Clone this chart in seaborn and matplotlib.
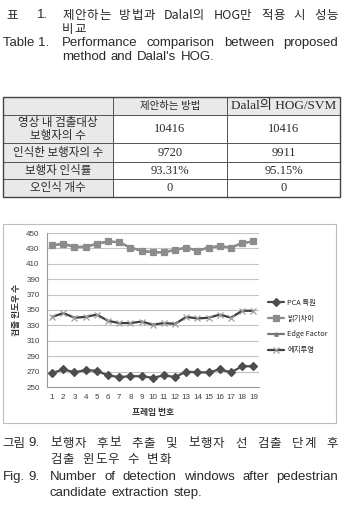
#!/usr/bin/env python3

import matplotlib
matplotlib.use("Agg")
import matplotlib.pyplot as plt
from matplotlib.patches import Rectangle
import seaborn as sns

W, H = 343, 512
KR = ["Noto Sans CJK KR", "DejaVu Sans"]
EN = ["Liberation Sans", "Noto Sans CJK KR"]
SERIF = ["Liberation Serif", "Noto Sans CJK KR"]
INK = "#2a2a2a"

# table data
col_headers = ["제안하는 방법", "Dalal의 HOG/SVM"]
row_labels = ["영상 내 검출대상\n보행자의 수", "인식한 보행자의 수", "보행자 인식률", "오인식 개수"]
proposed = ["10416", "9720", "93.31%", "0"]
dalal = ["10416", "9911", "95.15%", "0"]

# chart data (frame number vs. number of detection windows)
frames = list(range(1, 20))
pca = [268, 273, 269, 272, 271, 265, 263, 264, 264, 262, 265, 263, 270, 269, 269, 273, 269, 277, 277]
brightness = [434, 436, 432, 432, 436, 439, 438, 431, 427, 425, 425, 428, 431, 427, 431, 433, 431, 437, 439]
edge_factor = [434, 436, 432, 432, 436, 439, 438, 431, 427, 425, 425, 428, 431, 427, 431, 433, 431, 437, 439]
edge_proj = [341, 346, 340, 341, 344, 336, 333, 333, 335, 331, 333, 332, 341, 339, 340, 344, 340, 349, 349]
series_names = ["PCA 특원", "밝기차이", "Edge Factor", "에지투영"]

sns.set_style("white")
plt.rcParams["font.family"] = KR

fig = plt.figure(figsize=(W / 100, H / 100), dpi=100)
bg = fig.add_axes([0, 0, 1, 1])
bg.set_xlim(0, W)
bg.set_ylim(H, 0)
bg.axis("off")


def place(words, x0, y, family, size, x1=None, gap=None, track=0.0):
    # lay words out on one line; justified to x1, or with a fixed gap.
    # track spaces out the letters of all-Hangul words
    r = fig.canvas.get_renderer()
    groups, widths = [], []
    for w in words:
        hangul = all("\uac00" <= c <= "\ud7a3" for c in w)
        t_w = track if hangul else 0.0
        parts = list(w) if t_w else [w]
        ts = [bg.text(0, y, p, va="center", ha="left", family=family,
                      fontsize=size, color=INK) for p in parts]
        ws = [t.get_window_extent(r).width for t in ts]
        groups.append((ts, ws, t_w))
        widths.append(sum(ws) + t_w * (len(ts) - 1))
    if x1 is not None:
        gap = (x1 - x0 - sum(widths)) / (len(words) - 1)
    x = x0
    for (ts, ws, t_w), w in zip(groups, widths):
        cx = x
        for t, cw in zip(ts, ws):
            t.set_x(cx)
            cx += cw + t_w
        x += w + gap


def line(s, x, y, family, size):
    bg.text(x, y, s, va="center", ha="left", family=family, fontsize=size, color=INK)


KS, ES = 9, 9.5
fig.canvas.draw()

# top caption
line("표", 6, 15, KR, KS)
line("1.", 37, 15, EN, ES)
place("제안하는 방법과 Dalal의 HOG만 적용 시 성능".split(), 62, 15, KR, KS, x1=338, track=0.8)
place(["비교"], 62, 30, KR, KS, gap=0, track=1.2)
line("Table 1.", 3, 43, EN, ES)
place("Performance comparison between proposed".split(), 62, 43, EN, ES, x1=338)
place("method and Dalal's HOG.".split(), 62, 57, EN, ES, gap=4.5)

# table
cols = [3, 113, 227, 340]
rows = [97, 115, 143, 162, 179, 197]
for i in range(len(rows) - 1):
    for j in range(len(cols) - 1):
        shade = i == 0 or j == 0
        bg.add_patch(Rectangle((cols[j], rows[i]), cols[j + 1] - cols[j],
                               rows[i + 1] - rows[i],
                               facecolor="#e9e9e9" if shade else "white",
                               edgecolor="#555555", lw=0.7))
bg.add_patch(Rectangle((cols[0], rows[0]), cols[-1] - cols[0], rows[-1] - rows[0],
                       fill=False, edgecolor="#444444", lw=1.0))


def cell_center(i, j):
    return (cols[j] + cols[j + 1]) / 2, (rows[i] + rows[i + 1]) / 2


for j, (h, fs) in enumerate(zip(col_headers, [7.5, 9.5])):
    cx, cy = cell_center(0, j + 1)
    bg.text(cx, cy, h, ha="center", va="center", family=SERIF, fontsize=fs, color=INK)
for i, lab in enumerate(row_labels):
    cx, cy = cell_center(i + 1, 0)
    bg.text(cx, cy, lab, ha="center", va="center", family=KR, fontsize=8.3,
            color=INK, linespacing=0.95)
    for j, vals in enumerate([proposed, dalal]):
        cx, cy = cell_center(i + 1, j + 1)
        bg.text(cx, cy, vals[i], ha="center", va="center", family=SERIF,
                fontsize=9, color=INK)

# chart frame
bg.add_patch(Rectangle((3, 224), 333, 199, fill=False, edgecolor="#bdbdbd", lw=0.8))

ax_l, ax_r, ax_t, ax_b = 46.5, 259, 233, 387
ax = fig.add_axes([ax_l / W, 1 - ax_b / H, (ax_r - ax_l) / W, (ax_b - ax_t) / H])

styles = [
    (pca, "#4d4d4d", "#4d4d4d", "D", 3.8, 3),
    (brightness, "#8c8c8c", "#8c8c8c", "s", 4.3, 3),
    (edge_factor, "#777777", "#777777", "^", 2.5, 2),
    (edge_proj, "#3f3f3f", "#a0a0a0", "x", 4.6, 3),
]
for name, (vals, lc, mc, mk, ms, z) in zip(series_names, styles):
    sns.lineplot(x=frames, y=vals, ax=ax, color=lc, lw=1.6, marker=mk,
                 markersize=ms, markerfacecolor=mc, markeredgecolor=mc,
                 markeredgewidth=0.9, label=name, zorder=z)

ax.set_xlim(0.5, 19.5)
ax.set_ylim(250, 450)
ax.set_yticks(range(250, 451, 20))
ax.set_xticks(frames)
ax.set_xticks([f + 0.5 for f in range(0, 20)], minor=True)
ax.yaxis.grid(True, color="#c4c4c4", lw=0.8)
ax.set_axisbelow(True)
for s in ["top", "right"]:
    ax.spines[s].set_visible(False)
for s in ["left", "bottom"]:
    ax.spines[s].set_color("#9a9a9a")
    ax.spines[s].set_linewidth(0.8)
ax.tick_params(axis="y", which="major", length=3, width=0.7, color="#9a9a9a",
               labelsize=5.8, labelcolor="#404040", pad=2)
ax.tick_params(axis="x", which="major", length=0, labelsize=5.8,
               labelcolor="#404040", pad=5)
ax.tick_params(axis="x", which="minor", length=3, width=0.7, color="#9a9a9a")
for t in ax.get_xticklabels() + ax.get_yticklabels():
    t.set_family(EN)
ax.set_xlabel("")
ax.set_ylabel("")

bg.text((ax_l + ax_r) / 2, 412, "프레임 번호", ha="center", va="center",
        family=KR, fontsize=6.3, fontweight="bold", color="#333333")
bg.text(16, (ax_t + ax_b) / 2, "검출 윈도우 수", ha="center", va="center",
        rotation=90, family=KR, fontsize=6.3, fontweight="bold", color="#333333")

ax.legend(loc="upper left", bbox_to_anchor=(268 / W, 1 - 299 / H),
          bbox_transform=fig.transFigure, frameon=False, fontsize=5.3,
          handlelength=2.2, labelspacing=1.05, handletextpad=0.4,
          borderaxespad=0, borderpad=0)

# bottom caption
line("그림", 2, 443, KR, KS)
line("9.", 28, 443, EN, ES)
place("보행자 후보 추출 및 보행자 선 검출 단계 후".split(), 50, 443, KR, KS, x1=338, track=0.8)
place("검출 윈도우 수 변화".split(), 50, 460, KR, KS, gap=8, track=1.2)
line("Fig.", 3, 477, EN, ES)
line("9.", 28, 477, EN, ES)
place("Number of detection windows after pedestrian".split(), 50, 477, EN, ES, x1=338)
place("candidate extraction step.".split(), 50, 493, EN, ES, gap=4.5)

fig.savefig("out.png", dpi=100)
